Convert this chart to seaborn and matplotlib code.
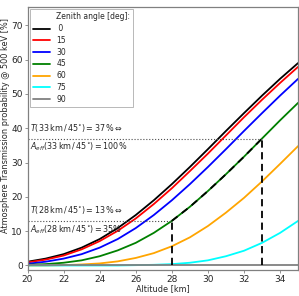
import numpy as np
import pandas as pd
import matplotlib
matplotlib.use("Agg")
import matplotlib.pyplot as plt
from matplotlib.lines import Line2D
import seaborn as sns

# altitude grid [km] and transmission [%] per zenith angle
altitude = [20, 21, 22, 23, 24, 25, 26, 27, 28, 29, 30, 31, 32, 33, 34, 35]
angles = [0, 15, 30, 45, 60, 75, 90]
t00 = [1.1, 2.0, 3.3, 5.2, 7.7, 10.9, 14.7, 19.0, 23.7, 28.7, 33.9, 39.2, 44.4, 49.5, 54.4, 59.0]
t15 = [0.9, 1.7, 2.9, 4.7, 7.1, 10.1, 13.7, 17.9, 22.5, 27.5, 32.6, 37.9, 43.2, 48.3, 53.2, 57.9]
t30 = [0.5, 1.1, 2.0, 3.3, 5.2, 7.7, 10.9, 14.7, 19.0, 23.7, 28.7, 33.9, 39.2, 44.4, 49.5, 54.4]
t45 = [0.2, 0.4, 0.8, 1.5, 2.7, 4.4, 6.6, 9.5, 13.0, 17.1, 21.7, 26.6, 31.7, 37.0, 42.3, 47.4]
t60 = [0.0, 0.0, 0.1, 0.3, 0.6, 1.2, 2.2, 3.6, 5.6, 8.2, 11.5, 15.4, 19.7, 24.5, 29.6, 34.8]
t75 = [0.0, 0.0, 0.0, 0.0, 0.0, 0.0, 0.1, 0.2, 0.4, 0.8, 1.5, 2.7, 4.3, 6.6, 9.5, 13.0]
t90 = [0.0] * 16
colors = ["black", "red", "blue", "green", "orange", "cyan", "gray"]

series = [t00, t15, t30, t45, t60, t75, t90]
df = pd.concat([pd.DataFrame({"alt": altitude, "T": s, "angle": str(a)})
                for a, s in zip(angles, series)])

sns.set_style("ticks")
plt.rcParams["font.family"] = ["DejaVu Sans"]
fig = plt.figure(figsize=(2.99, 2.96), dpi=100)
ax = fig.add_axes([0.092, 0.088, 0.905, 0.888])

sns.lineplot(data=df, x="alt", y="T", hue="angle", palette=colors, lw=1.3, ax=ax)

# reference points at 45 deg
i28, i33 = altitude.index(28), altitude.index(33)
ax.plot(altitude[i28:i33 + 1], t45[i28:i33 + 1], color="black", lw=1.3, ls=(0, (4, 3)))
for i in (i28, i33):
    ax.plot([altitude[i], altitude[i]], [0, t45[i]], color="black", lw=1.3, ls=(0, (4, 2.5)))
    ax.plot([20, altitude[i]], [t45[i], t45[i]], color="0.3", lw=0.8, ls=":")

fs = 5.8
ax.text(20.15, 13.0 + 1.3, r"$T(28\,\mathrm{km}\,/\,45^{\circ}) = 13\,\%\Leftrightarrow$",
        fontsize=fs, va="bottom")
ax.text(20.15, 13.0 - 0.7, r"$A_{eff}(28\,\mathrm{km}\,/\,45^{\circ}) = 35\%$",
        fontsize=fs, va="top")
ax.text(20.15, 37.0 + 1.3, r"$T(33\,\mathrm{km}\,/\,45^{\circ}) = 37\,\%\Leftrightarrow$",
        fontsize=fs, va="bottom")
ax.text(20.15, 37.0 - 0.7, r"$A_{eff}(33\,\mathrm{km}\,/\,45^{\circ}) = 100\%$",
        fontsize=fs, va="top")

ax.set_xlim(20, 35)
ax.set_ylim(-1.3, 75.3)
ax.set_xticks([20, 22, 24, 26, 28, 30, 32, 34])
ax.set_yticks([0, 10, 20, 30, 40, 50, 60, 70])
ax.tick_params(labelsize=6.5, length=2, width=0.6, color="gray", pad=1.5)
ax.set_xlabel("Altitude [km]", fontsize=5.9, labelpad=0.5)
ax.set_ylabel("Atmosphere Transmission probability @ 500 keV [%]", fontsize=5.9, labelpad=1)
ax.yaxis.set_label_coords(-0.066, 0.55)
for sp in ax.spines.values():
    sp.set_color("gray")
    sp.set_linewidth(0.9)

handles, labels = ax.get_legend_handles_labels()
title_handle = Line2D([], [], color="none")
leg = ax.legend([title_handle] + handles[:7],
                ["Zenith angle [deg]:"] + [" " + l if len(l) == 1 else l for l in labels[:7]],
                loc="upper left", fontsize=5.5, frameon=True, fancybox=False,
                edgecolor="0.6", handlelength=2.3, handletextpad=0.75,
                labelspacing=0.36, borderaxespad=0.3, borderpad=0.4)
leg.get_frame().set_linewidth(0.6)

fig.savefig("out.png", dpi=100)
